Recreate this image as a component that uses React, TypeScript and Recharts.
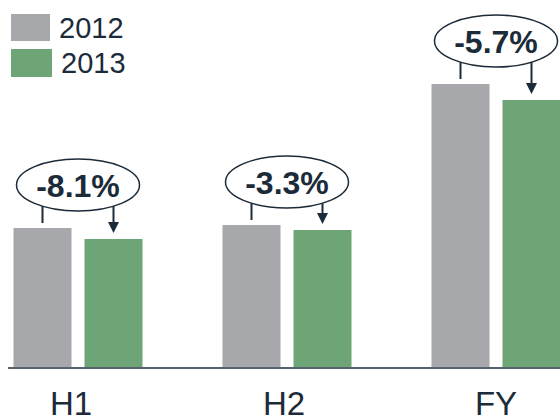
import React from 'react';
import { BarChart, Bar, XAxis, YAxis, Legend, LabelList } from 'recharts';

const periods = ['H1', 'H2', 'FY'];
const values2012 = [140, 143, 284];
const values2013 = [129, 138, 268];
const changeLabels = ['-8.1%', '-3.3%', '-5.7%'];
const seriesNames = ['2012', '2013'];

const GRAY = '#a7a8ac';
const GREEN = '#6ea576';
const DARK = '#1c2b39';
const FONT = '"Liberation Sans", Arial, Helvetica, sans-serif';
const BAR_SIZE = 58;
const BAR_GAP = 13;
const TICK_NUDGE = [-7, -3, 0];

const data = periods.map((p, i) => ({ period: p, y2012: values2012[i], y2013: values2013[i] }));

const LegendContent = () => (
  <svg width={140} height={85} style={{ display: 'block' }}>
    <rect x={11} y={14} width={39} height={27} fill={GRAY} />
    <text x={59} y={37.5} fontSize={29} fontFamily={FONT} fill={DARK}>{seriesNames[0]}</text>
    <rect x={11} y={49} width={41} height={28} fill={GREEN} />
    <text x={61} y={73} fontSize={29} fontFamily={FONT} fill={DARK}>{seriesNames[1]}</text>
  </svg>
);

const Annotation = (props: any) => {
  const { x, y, width, height, index } = props;
  const gx = Number(x);
  const gy = Number(y);
  const w = Number(width);
  const h = Number(height);
  const baseline = gy + h;
  const grayTop = baseline - (h * values2012[index]) / values2013[index];
  const grayCenter = gx - BAR_GAP - w / 2;
  const greenCenter = gx + w / 2;
  const cx = gx - BAR_GAP / 2;
  const cy = grayTop - 43;
  const rx = 61.5;
  const ry = 26;
  const edge = (px: number) => cy + ry * Math.sqrt(Math.max(0, 1 - ((px - cx) / rx) ** 2));
  const arrowTip = gy - 6;
  return (
    <g>
      <ellipse cx={cx} cy={cy} rx={rx} ry={ry} fill="#fff" stroke={DARK} strokeWidth={1.5} />
      <text x={cx} y={cy + 12} textAnchor="middle" fontSize={32} fontWeight="bold" fontFamily={FONT} fill={DARK}>
        {changeLabels[index]}
      </text>
      <line x1={grayCenter} x2={grayCenter} y1={edge(grayCenter)} y2={grayTop - 5} stroke={DARK} strokeWidth={2} />
      <line x1={greenCenter} x2={greenCenter} y1={edge(greenCenter)} y2={arrowTip - 9} stroke={DARK} strokeWidth={2} />
      <polygon
        points={`${greenCenter - 5.5},${arrowTip - 11} ${greenCenter + 5.5},${arrowTip - 11} ${greenCenter},${arrowTip}`}
        fill={DARK}
      />
    </g>
  );
};

const Tick = (props: any) => {
  const { x, y, payload, index } = props;
  return (
    <text
      x={Number(x) + (TICK_NUDGE[index] || 0)}
      y={Number(y) + 39}
      textAnchor="middle"
      fontSize={33}
      fontFamily={FONT}
      fill={DARK}
    >
      {payload.value}
    </text>
  );
};

export default function App() {
  return (
    <div style={{ position: 'absolute', left: 0, top: 0, width: 560, height: 418, overflow: 'hidden', background: '#fff' }}>
      <BarChart
        width={560}
        height={418}
        data={data}
        margin={{ top: 68, right: 0, bottom: 0, left: 8 }}
        barSize={BAR_SIZE}
        barGap={BAR_GAP}
      >
        <XAxis
          dataKey="period"
          axisLine={{ stroke: '#56636d', strokeWidth: 2 }}
          tickLine={false}
          height={50}
          interval={0}
          padding={{ left: -34.5, right: -40.5 }}
          tick={<Tick />}
        />
        <YAxis hide domain={[0, 300]} />
        <Legend
          layout="vertical"
          align="center"
          verticalAlign="middle"
          wrapperStyle={{ position: 'absolute', left: 0, top: 0, width: 140, height: 85 }}
          content={<LegendContent />}
        />
        <Bar dataKey="y2012" name={seriesNames[0]} fill={GRAY} isAnimationActive={false} />
        <Bar dataKey="y2013" name={seriesNames[1]} fill={GREEN} isAnimationActive={false}>
          <LabelList dataKey="y2013" content={<Annotation />} />
        </Bar>
      </BarChart>
    </div>
  );
}
